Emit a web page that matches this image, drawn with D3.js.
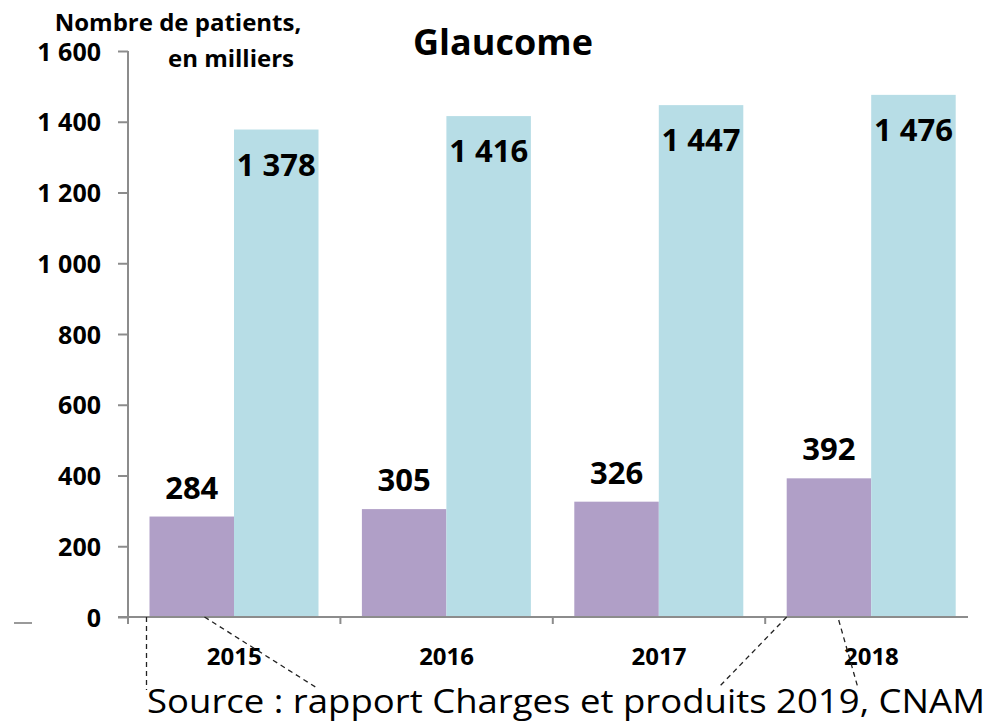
<!DOCTYPE html>
<html>
<head>
<meta charset="utf-8">
<script src="https://cdn.jsdelivr.net/npm/d3@7"></script>
<style>
  body { margin: 0; background: #fff; }
  svg text { font-family: "Open Sans", sans-serif; }
  .tick-lbl { font-weight: bold; font-size: 25px; fill: #000; }
  .yr { font-weight: bold; font-size: 24px; fill: #000; }
  .val { font-weight: bold; font-size: 31px; fill: #000; }
</style>
</head>
<body>
<div id="chart"></div>
<script>
// data
let years = ["2015", "2016", "2017", "2018"];
let seriesA = [284, 305, 326, 392];       // violet
let seriesB = [1378, 1416, 1447, 1476];   // bleu
let yTicks = [0, 200, 400, 600, 800, 1000, 1200, 1400, 1600];

let plot = function(){
    const width = 989;
    const height = 722;
    const margin = {top: 51, left: 128, bottom: 105, right: 12};

    var svg = d3.select("#chart").append("svg").attr("width", width).attr("height", height);

    var yScale = d3.scaleLinear().domain([0, 1600]).range([height-margin.bottom, margin.top]);
    var bandW = 212.4;
    var barW = 84.5;
    var x0 = d => margin.left + years.indexOf(d)*bandW + 21.5;

    var fmt = v => d3.format(",")(v).replace(/,/g, " ");

    // bars
    svg.append("g").selectAll("rect").data(years).enter().append("rect")
        .attr("x", d => x0(d))
        .attr("y", (d,i) => yScale(seriesA[i]))
        .attr("width", barW)
        .attr("height", (d,i) => yScale(0) - yScale(seriesA[i]))
        .attr("fill", "#b09fc7");
    svg.append("g").selectAll("rect").data(years).enter().append("rect")
        .attr("x", d => x0(d) + barW)
        .attr("y", (d,i) => yScale(seriesB[i]))
        .attr("width", barW)
        .attr("height", (d,i) => yScale(0) - yScale(seriesB[i]))
        .attr("fill", "#b7dde6");

    // value labels
    svg.append("g").selectAll("text").data(years).enter().append("text")
        .attr("class", "val")
        .attr("x", d => x0(d) + barW/2)
        .attr("y", (d,i) => yScale(seriesA[i]) - 18)
        .attr("text-anchor", "middle")
        .text((d,i) => fmt(seriesA[i]));
    svg.append("g").selectAll("text").data(years).enter().append("text")
        .attr("class", "val")
        .attr("x", d => x0(d) + barW*1.5)
        .attr("y", (d,i) => yScale(seriesB[i]) + 46)
        .attr("text-anchor", "middle")
        .text((d,i) => fmt(seriesB[i]));

    // y axis
    var axisCol = "#8c8c8c";
    var yAxis = d3.axisLeft(yScale).tickValues(yTicks).tickSize(10).tickFormat(fmt);
    var gy = svg.append("g").attr("transform", "translate("+margin.left+",0)").call(yAxis);
    gy.select(".domain").attr("stroke", axisCol).attr("stroke-width", 2).attr("d", "M0,"+margin.top+"V"+(yScale(0)+7));
    gy.selectAll(".tick line").attr("stroke", axisCol).attr("stroke-width", 2);
    gy.selectAll(".tick text").attr("class", "tick-lbl").attr("x", -27).attr("dy", "0.36em");
    gy.attr("font-size", null).attr("font-family", null);

    // x axis
    var xEnd = 968;
    svg.append("line").attr("x1", margin.left - 10).attr("x2", xEnd)
        .attr("y1", yScale(0)).attr("y2", yScale(0))
        .attr("stroke", axisCol).attr("stroke-width", 2);
    svg.append("g").selectAll("line").data(d3.range(0, 4)).enter().append("line")
        .attr("x1", i => margin.left + i*bandW).attr("x2", i => margin.left + i*bandW)
        .attr("y1", yScale(0)).attr("y2", yScale(0) + 7)
        .attr("stroke", axisCol).attr("stroke-width", 2);
    svg.append("g").selectAll("text").data(years).enter().append("text")
        .attr("class", "yr")
        .attr("x", d => margin.left + years.indexOf(d)*bandW + bandW/2)
        .attr("y", 665)
        .attr("text-anchor", "middle")
        .text(d => d);

    // small dash at left
    svg.append("line").attr("x1", 14).attr("x2", 32).attr("y1", 623).attr("y2", 623)
        .attr("stroke", "#9a9a9a").attr("stroke-width", 2);

    // title and axis title
    svg.append("text").attr("x", 503).attr("y", 55).attr("text-anchor", "middle")
        .attr("font-weight", "bold").attr("font-size", "36px").text("Glaucome");
    svg.append("text").attr("x", 178).attr("y", 31).attr("text-anchor", "middle")
        .attr("font-weight", "bold").attr("font-size", "24px").text("Nombre de patients,");
    svg.append("text").attr("x", 231).attr("y", 67).attr("text-anchor", "middle")
        .attr("font-weight", "bold").attr("font-size", "24px").text("en milliers");

    // dashed annotation lines
    var y0 = yScale(0);
    var dashes = [
        [x0("2015") - 3, y0, x0("2015") - 3, 690],
        [x0("2015") + 55, y0, 317, 688],
        [x0("2018"), y0, 718, 688],
        [x0("2018") + 52, y0 + 3, 858, 688]
    ];
    svg.append("g").selectAll("line").data(dashes).enter().append("line")
        .attr("x1", d => d[0]).attr("y1", d => d[1]).attr("x2", d => d[2]).attr("y2", d => d[3])
        .attr("stroke", "#222").attr("stroke-width", 1.3).attr("stroke-dasharray", "5,4");

    // source
    svg.append("text").attr("x", 147).attr("y", 713)
        .attr("font-size", "33px").attr("textLength", 838).attr("lengthAdjust", "spacingAndGlyphs")
        .text("Source : rapport Charges et produits 2019, CNAM");
}

plot();
</script>
</body>
</html>
